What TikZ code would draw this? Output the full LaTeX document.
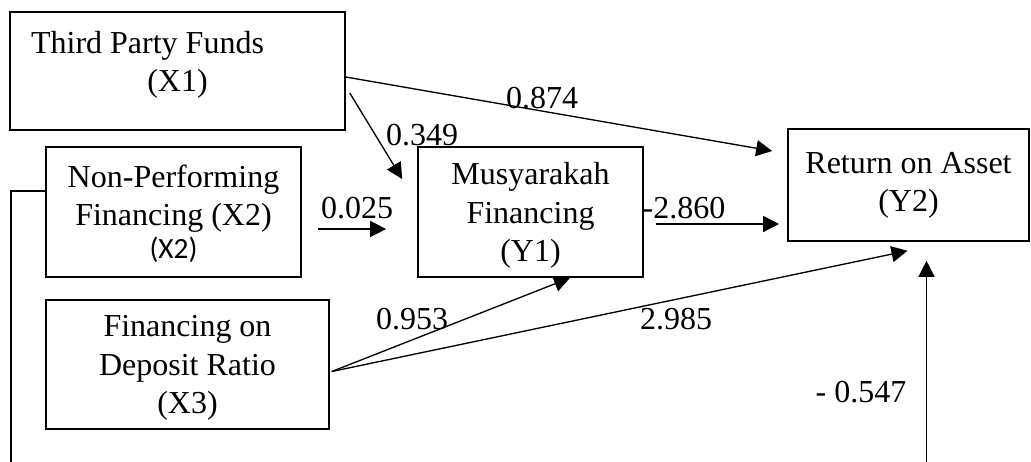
\documentclass[tikz,border=0pt]{standalone}
\usepackage{fontspec}
\setmainfont{Liberation Serif}
\newfontfamily\calibrifont{Carlito}
\usetikzlibrary{arrows.meta,calc}

\begin{document}
\begin{tikzpicture}[x=0.375pt, y=-0.375pt,
  var/.style={draw, rectangle, line width=0.6pt, align=center, inner sep=0pt, font=\fontsize{12}{14.3}\selectfont},
  link/.style={-{Triangle[length=6pt, width=6pt]}, line width=0.5pt},
  coef/.style={inner sep=0pt, font=\fontsize{12}{14.3}\selectfont}]
\useasboundingbox (0,0) rectangle (1031,461);
\clip (0,0) rectangle (1031,461);

% Third Party Funds
\node[var, minimum width=125.6pt, minimum height=44.3pt, text depth=7pt] (x1) at (177.5,71) {
    Third Party Funds\hspace*{22.5pt}\\(X1)
};

% Non-Performing Financing
\node[var, minimum width=95.6pt, minimum height=48.8pt, text depth=-1.5pt] (x2) at (173.5,212) {
    Non-Performing\\Financing (X2)\\[-1.9pt]{\calibrifont\fontsize{11}{13}\selectfont (X2)}
};

% Financing on Deposit Ratio
\node[var, minimum width=106.1pt, minimum height=48.4pt, text depth=-1.5pt] (x3) at (187.5,364.5) {
    Financing on\\Deposit Ratio\\(X3)
};

% Musyarakah Financing
\node[var, minimum width=84.4pt, minimum height=48.8pt, text depth=-1.5pt] (y1) at (530.5,212) {
    Musyarakah\\Financing\\(Y1)
};

% Return on Asset
\node[var, minimum width=90.4pt, minimum height=42pt] (y2) at (908.5,185) {
    Return on Asset\\(Y2)
};

% Paths
\draw[link] ($(x1.east)+(0,6)$) -- ($(y2.west)+(-15,-34)$);
\draw[link] ($(x1.east)+(4,22)$) -- ($(y1.west)+(-15,-33)$);
\draw[link] ($(x2.east)+(16,17)$) -- ($(y1.west)+(-31,17)$);
\draw[link] ($(y1.east)+(12,12)$) -- ($(y2.west)+(-8,39)$);
\draw[link] ($(x3.east)+(2,7)$) -- ($(y1.south)+(39.5,0)$);
\draw[link] ($(x3.east)+(2,7)$) -- ($(y2.south)+(-1,9)$);

% Loop round the bottom
\coordinate (loopL) at (11,470);
\draw[link] ($(x2.west)+(0,-21)$) -| (loopL) -| ($(y2.south)+(18,19)$);

% Coefficients
\node[coef] (c874) at (542,98) {0.874};
\node[coef] (c349) at (422,135) {0.349};
\node[coef] (c025) at (357,208) {0.025};
\node[coef] (c2860) at (684,208) {-2.860};
\node[coef] (c953) at (412,319) {0.953};
\node[coef] (c2985) at (676,319) {2.985};
\node[coef] (c547) at (861,392) {- 0.547};

\end{tikzpicture}
\end{document}
